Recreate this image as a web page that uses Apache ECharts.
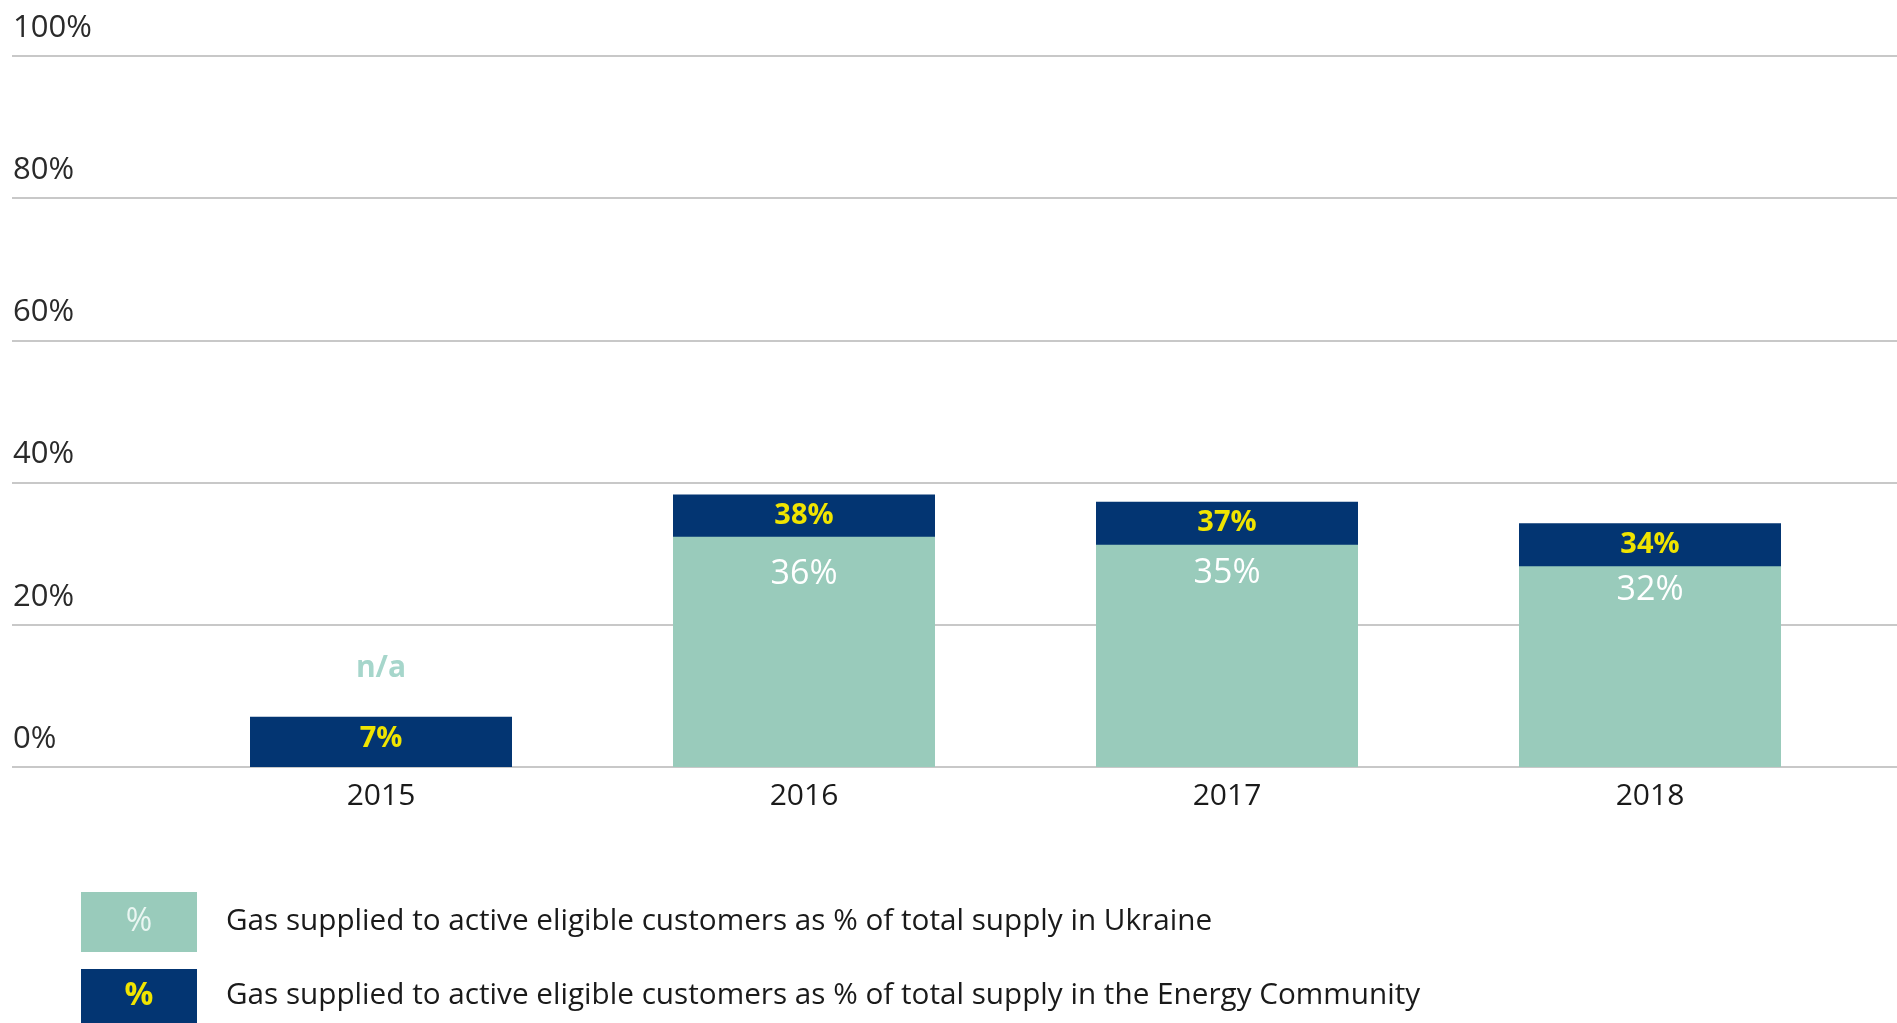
<!DOCTYPE html>
<html>
<head>
<meta charset="utf-8">
<script src="https://cdn.jsdelivr.net/npm/echarts@6/dist/echarts.min.js"></script>
<style>
html,body{margin:0;padding:0;background:#fff;}
#chart{width:1897px;height:1023px;}
</style>
</head>
<body>
<div id="chart"></div>
<script>
// ---- data ----
var years = ['2015', '2016', '2017', '2018'];
// Energy Community share (dark bars, labels)
var ecShare = [7, 38, 37, 34];
// Ukraine share (teal labels); null = n/a
var ukraineShare = [null, 36, 35, 32];
// drawn height of the teal bars
var ukraineBarHeight = [0, 32.1, 31, 28];
var yTicks = [0, 20, 40, 60, 80, 100];
var legendTexts = [
  'Gas supplied to active eligible customers as % of total supply in Ukraine',
  'Gas supplied to active eligible customers as % of total supply in the Energy Community'
];

// ---- styling ----
var TEAL = '#99cbbb', NAVY = '#033572', YELLOW = '#f0e400', FONT = 'Open Sans';
var tealLabelGap = [84, 20, 12, 7];

var chart = echarts.init(document.getElementById('chart'));

var tealData = ukraineBarHeight.map(function (v, i) {
  if (ukraineShare[i] == null) {
    return {
      value: v,
      label: { show: true, position: 'top', distance: tealLabelGap[i], color: '#a6d6cb', fontWeight: 'bold', fontSize: 30, formatter: 'n/a' }
    };
  }
  return { value: v, label: { distance: tealLabelGap[i] } };
});

chart.setOption({
  animation: false,
  textStyle: { fontFamily: FONT },
  grid: [
    { left: 12, right: 0, top: 50, bottom: 256, containLabel: false },
    { left: 169.5, right: 35.5, top: 50, bottom: 256, containLabel: false }
  ],
  xAxis: [
    { type: 'value', gridIndex: 0, show: false, min: 0, max: 1 },
    {
      type: 'category', gridIndex: 1, data: years,
      axisLine: { show: false }, axisTick: { show: false },
      axisLabel: { color: '#1a1a1a', fontSize: 30, margin: 14, fontFamily: FONT }
    }
  ],
  yAxis: [
    {
      type: 'value', gridIndex: 0, min: yTicks[0], max: yTicks[yTicks.length - 1], interval: 20,
      axisLine: { show: false }, axisTick: { show: false },
      splitLine: { lineStyle: { color: '#c8c8c8', width: 2 } },
      axisLabel: {
        inside: true, margin: 1, align: 'left', verticalAlign: 'bottom', lineHeight: 56,
        color: '#2a2a2a', fontSize: 31, fontFamily: FONT,
        formatter: function (v) { return v + '%'; }
      }
    },
    {
      type: 'value', gridIndex: 1, min: yTicks[0], max: yTicks[yTicks.length - 1], interval: 20,
      show: false, splitLine: { show: false }
    }
  ],
  series: [
    {
      name: legendTexts[1], type: 'bar', xAxisIndex: 1, yAxisIndex: 1,
      barWidth: 262, data: ecShare,
      itemStyle: { color: NAVY },
      label: {
        show: true, position: 'insideTop', distance: 7, color: YELLOW,
        fontWeight: 'bold', fontSize: 29, fontFamily: FONT,
        formatter: function (p) { return ecShare[p.dataIndex] + '%'; }
      },
      z: 2
    },
    {
      name: legendTexts[0], type: 'bar', xAxisIndex: 1, yAxisIndex: 1,
      barWidth: 262, barGap: '-100%', data: tealData,
      itemStyle: { color: TEAL },
      label: {
        show: true, position: 'insideTop', color: '#ffffff',
        fontSize: 34, fontFamily: FONT,
        formatter: function (p) { return ukraineShare[p.dataIndex] == null ? 'n/a' : ukraineShare[p.dataIndex] + '%'; }
      },
      z: 3
    }
  ],
  graphic: [
    { type: 'rect', left: 81, top: 892, shape: { width: 116, height: 60 }, style: { fill: TEAL } },
    { type: 'text', x: 139, y: 922, style: { text: '%', fill: '#eaf6f2', font: '32px "Open Sans"', align: 'center', verticalAlign: 'middle' } },
    { type: 'text', x: 226, y: 922, style: { text: legendTexts[0], fill: '#1a1a1a', font: '29.7px "Open Sans"', align: 'left', verticalAlign: 'middle' } },
    { type: 'rect', left: 81, top: 969, shape: { width: 116, height: 60 }, style: { fill: NAVY } },
    { type: 'text', x: 139, y: 996, style: { text: '%', fill: YELLOW, font: 'bold 32px "Open Sans"', align: 'center', verticalAlign: 'middle' } },
    { type: 'text', x: 226, y: 996, style: { text: legendTexts[1], fill: '#1a1a1a', font: '29.7px "Open Sans"', align: 'left', verticalAlign: 'middle' } }
  ]
});
</script>
</body>
</html>
